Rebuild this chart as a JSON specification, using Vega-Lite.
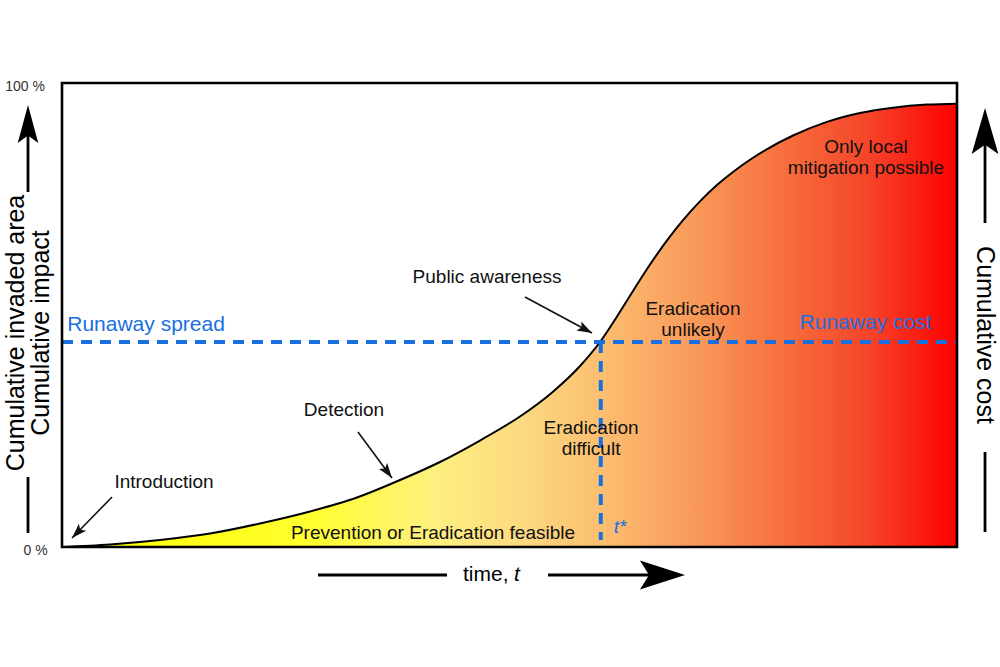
{
  "$schema": "https://vega.github.io/schema/vega-lite/v6.json",
  "width": 895,
  "height": 464,
  "autosize": {"type": "none"},
  "padding": {"left": 62, "top": 83, "right": 43, "bottom": 120},
  "background": "white",
  "config": {"view": {"stroke": null}, "font": "Liberation Sans"},
  "datasets": {
    "curve": [
      {"x": 0, "y": 0}, {"x": 5.36, "y": 0.54}, {"x": 10.95, "y": 1.51}, {"x": 16.54, "y": 2.91},
      {"x": 22.12, "y": 5.06}, {"x": 27.71, "y": 7.65}, {"x": 32.96, "y": 10.67}, {"x": 36.98, "y": 13.79},
      {"x": 42.23, "y": 18.32}, {"x": 46.7, "y": 22.95}, {"x": 51.17, "y": 28.13}, {"x": 54.86, "y": 33.48},
      {"x": 57.88, "y": 39.01}, {"x": 60.11, "y": 44.18}, {"x": 62.01, "y": 49.68}, {"x": 63.8, "y": 55.19},
      {"x": 65.7, "y": 60.87}, {"x": 67.6, "y": 66.08}, {"x": 69.39, "y": 70.45}, {"x": 71.28, "y": 74.48},
      {"x": 73.18, "y": 78.0}, {"x": 74.97, "y": 80.82}, {"x": 76.87, "y": 83.45}, {"x": 78.55, "y": 85.5},
      {"x": 81.68, "y": 88.69}, {"x": 85.47, "y": 91.62}, {"x": 89.16, "y": 93.53}, {"x": 92.85, "y": 94.68},
      {"x": 96.65, "y": 95.34}, {"x": 100, "y": 95.54}
    ],
    "thresh": [{"x": 60.2, "y": 44.18}],
    "pointers": [
      {"name": "intro", "x": 5.59, "y": 10.78, "x2": 1.12, "y2": 1.94},
      {"name": "detect", "x": 33.07, "y": 24.78, "x2": 36.87, "y2": 14.87},
      {"name": "public", "x": 51.73, "y": 53.88, "x2": 59.22, "y2": 46.12}
    ],
    "axisLines": [
      {"name": "leftUp", "x": -3.8, "y": 76.51, "x2": -3.8, "y2": 93.5},
      {"name": "leftDown", "x": -3.8, "y": 15.09, "x2": -3.8, "y2": 3.02},
      {"name": "rightUp", "x": 103.13, "y": 69.83, "x2": 103.13, "y2": 93.0},
      {"name": "rightDown", "x": 103.13, "y": 20.47, "x2": 103.13, "y2": 3.23},
      {"name": "timeLeft", "x": 28.6, "y": -6.03, "x2": 43.02, "y2": -6.03},
      {"name": "timeRight", "x": 54.3, "y": -6.03, "x2": 68.0, "y2": -6.03}
    ],
    "heads": [
      {"name": "leftUp", "x": -3.8, "y": 95.26},
      {"name": "rightUp", "x": 103.13, "y": 94.61},
      {"name": "timeRight", "x": 69.61, "y": -6.03}
    ],
    "percent": [
      {"x": -1.9, "y": 100, "text": "100 %"},
      {"x": -1.6, "y": 0, "text": "0 %"}
    ],
    "notes": [
      {"x": 47.49, "y": 58.19, "text": "Public awareness"},
      {"x": 31.51, "y": 29.53, "text": "Detection"},
      {"x": 11.4, "y": 14.01, "text": "Introduction"},
      {"x": 41.45, "y": 3.02, "text": "Prevention or Eradication feasible"},
      {"x": 59.11, "y": 25.65, "text": "Eradication\ndifficult"},
      {"x": 70.5, "y": 51.29, "text": "Eradication\nunlikely"},
      {"x": 89.83, "y": 86.21, "text": "Only local\nmitigation possible"}
    ],
    "blueNotes": [
      {"x": 9.39, "y": 47.84, "text": "Runaway spread"},
      {"x": 89.78, "y": 48.28, "text": "Runaway cost"}
    ],
    "tLabel": [{"x": 62.35, "y": 4.31, "text": "t*"}],
    "yTitles": [
      {"x": -5.14, "y": 46.12, "text": "Cumulative invaded area"},
      {"x": -2.35, "y": 46.12, "text": "Cumulative impact"}
    ],
    "costTitle": [{"x": 103.13, "y": 45.69, "text": "Cumulative cost"}],
    "timeTitle": [
      {"part": "a", "x": 44.8, "y": -6.03, "text": "time,"},
      {"part": "b", "x": 50.5, "y": -6.03, "text": "t"}
    ],
    "frame": [{"x": 0, "y": 0, "x2": 100, "y2": 100}]
  },
  "encoding": {
    "x": {"field": "x", "type": "quantitative", "scale": {"domain": [0, 100], "nice": false, "zero": false}, "axis": null},
    "y": {"field": "y", "type": "quantitative", "scale": {"domain": [0, 100], "nice": false, "zero": false}, "axis": null}
  },
  "layer": [
    {
      "data": {"name": "curve"},
      "mark": {"type": "area", "interpolate": "monotone",
        "color": {"gradient": "linear", "x1": 0, "y1": 0, "x2": 1, "y2": 0,
          "stops": [
            {"offset": 0, "color": "#ffff00"},
            {"offset": 0.28, "color": "#ffff30"},
            {"offset": 0.42, "color": "#fdef80"},
            {"offset": 0.52, "color": "#fcd880"},
            {"offset": 0.6, "color": "#fbbf70"},
            {"offset": 0.7, "color": "#f99c5c"},
            {"offset": 0.8, "color": "#f7723f"},
            {"offset": 0.9, "color": "#f5452a"},
            {"offset": 1, "color": "#ff0000"}
          ]}}
    },
    {
      "data": {"name": "curve"},
      "mark": {"type": "line", "interpolate": "monotone", "color": "#000", "strokeWidth": 2}
    },
    {
      "data": {"name": "thresh"},
      "mark": {"type": "rule", "color": "#1a6fe0", "strokeWidth": 4, "strokeDash": [11, 8]},
      "encoding": {
        "x": {"datum": 0, "type": "quantitative", "axis": null},
        "x2": {"datum": 100}
      }
    },
    {
      "data": {"name": "thresh"},
      "mark": {"type": "rule", "color": "#1a6fe0", "strokeWidth": 4, "strokeDash": [11, 8]},
      "encoding": {"y2": {"datum": 1.5}}
    },
    {
      "data": {"name": "pointers"},
      "mark": {"type": "rule", "color": "#111", "strokeWidth": 1.6},
      "encoding": {"x2": {"field": "x2"}, "y2": {"field": "y2"}}
    },
    {
      "data": {"name": "pointers"},
      "transform": [{"filter": "datum.name === 'intro'"}],
      "mark": {"type": "point", "shape": "M0,0 L0.34,1 L0,0.78 L-0.34,1 Z", "filled": true, "color": "#111", "opacity": 1, "size": 900, "angle": 224.3},
      "encoding": {"x": {"field": "x2", "type": "quantitative", "axis": null}, "y": {"field": "y2", "type": "quantitative", "axis": null}}
    },
    {
      "data": {"name": "pointers"},
      "transform": [{"filter": "datum.name === 'detect'"}],
      "mark": {"type": "point", "shape": "M0,0 L0.34,1 L0,0.78 L-0.34,1 Z", "filled": true, "color": "#111", "opacity": 1, "size": 900, "angle": 143.5},
      "encoding": {"x": {"field": "x2", "type": "quantitative", "axis": null}, "y": {"field": "y2", "type": "quantitative", "axis": null}}
    },
    {
      "data": {"name": "pointers"},
      "transform": [{"filter": "datum.name === 'public'"}],
      "mark": {"type": "point", "shape": "M0,0 L0.34,1 L0,0.78 L-0.34,1 Z", "filled": true, "color": "#111", "opacity": 1, "size": 900, "angle": 118.3},
      "encoding": {"x": {"field": "x2", "type": "quantitative", "axis": null}, "y": {"field": "y2", "type": "quantitative", "axis": null}}
    },
    {
      "data": {"name": "axisLines"},
      "mark": {"type": "rule", "color": "#000", "strokeWidth": 2.8},
      "encoding": {"x2": {"field": "x2"}, "y2": {"field": "y2"}}
    },
    {
      "data": {"name": "heads"},
      "transform": [{"filter": "datum.name === 'leftUp'"}],
      "mark": {"type": "point", "shape": "M0,0 L0.27,1 L0,0.8 L-0.27,1 Z", "filled": true, "color": "#000", "opacity": 1, "size": 5776, "angle": 0}
    },
    {
      "data": {"name": "heads"},
      "transform": [{"filter": "datum.name === 'rightUp'"}],
      "mark": {"type": "point", "shape": "M0,0 L0.29,1 L0,0.8 L-0.29,1 Z", "filled": true, "color": "#000", "opacity": 1, "size": 8464, "angle": 0}
    },
    {
      "data": {"name": "heads"},
      "transform": [{"filter": "datum.name === 'timeRight'"}],
      "mark": {"type": "point", "shape": "M0,0 L0.32,1 L0,0.8 L-0.32,1 Z", "filled": true, "color": "#000", "opacity": 1, "size": 8100, "angle": 90}
    },
    {
      "data": {"name": "percent"},
      "mark": {"type": "text", "fontSize": 14, "color": "#333", "align": "right", "baseline": "middle", "dy": 4},
      "encoding": {"text": {"field": "text"}}
    },
    {
      "data": {"name": "notes"},
      "mark": {"type": "text", "fontSize": 19, "color": "#111", "align": "center", "baseline": "middle", "lineBreak": "\n", "lineHeight": 21},
      "encoding": {"text": {"field": "text"}}
    },
    {
      "data": {"name": "blueNotes"},
      "mark": {"type": "text", "fontSize": 21, "color": "#1a6fe0", "align": "center", "baseline": "middle"},
      "encoding": {"text": {"field": "text"}}
    },
    {
      "data": {"name": "tLabel"},
      "mark": {"type": "text", "fontSize": 19, "fontStyle": "italic", "color": "#1a6fe0", "align": "center", "baseline": "middle"},
      "encoding": {"text": {"field": "text"}}
    },
    {
      "data": {"name": "yTitles"},
      "mark": {"type": "text", "fontSize": 25, "color": "#000", "align": "center", "baseline": "middle", "angle": 270},
      "encoding": {"text": {"field": "text"}}
    },
    {
      "data": {"name": "costTitle"},
      "mark": {"type": "text", "fontSize": 25, "color": "#000", "align": "center", "baseline": "middle", "angle": 90},
      "encoding": {"text": {"field": "text"}}
    },
    {
      "data": {"name": "timeTitle"},
      "transform": [{"filter": "datum.part === 'a'"}],
      "mark": {"type": "text", "fontSize": 21, "color": "#000", "align": "left", "baseline": "middle"},
      "encoding": {"text": {"field": "text"}}
    },
    {
      "data": {"name": "timeTitle"},
      "transform": [{"filter": "datum.part === 'b'"}],
      "mark": {"type": "text", "fontSize": 21, "fontStyle": "italic", "color": "#000", "align": "left", "baseline": "middle"},
      "encoding": {"text": {"field": "text"}}
    },
    {
      "data": {"name": "frame"},
      "mark": {"type": "rect", "fillOpacity": 0, "stroke": "#000", "strokeWidth": 2.6},
      "encoding": {"x2": {"field": "x2"}, "y2": {"field": "y2"}}
    }
  ]
}
